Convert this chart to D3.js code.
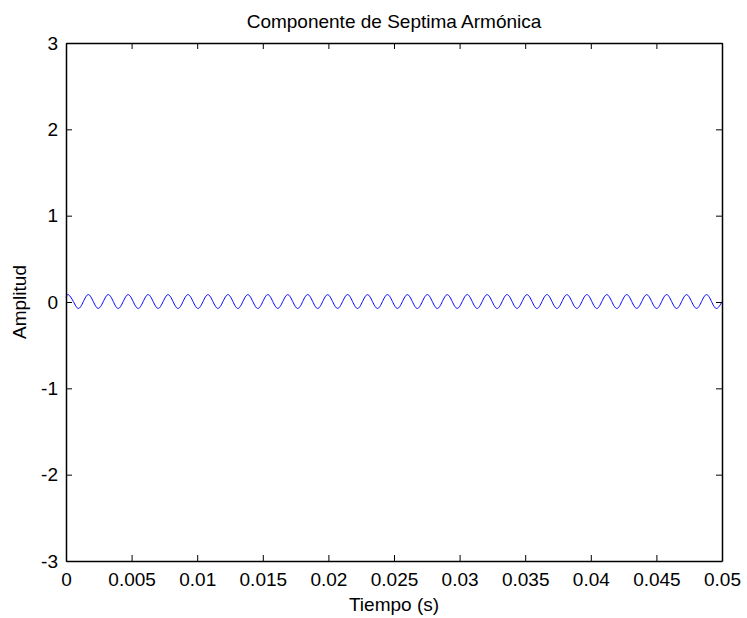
<!DOCTYPE html>
<html>
<head>
<meta charset="utf-8">
<script src="https://cdn.jsdelivr.net/npm/d3@7"></script>
<style>
  html, body { margin: 0; padding: 0; background: #fff; }
  svg { display: block; }
  text { font-family: "Liberation Sans", Arial, sans-serif; fill: #000; }
</style>
</head>
<body>
<svg id="chart" width="747" height="618"></svg>
<script>
// ---- data ----
const titleText = "Componente de Septima Armónica";
const xLabel = "Tiempo (s)";
const yLabel = "Amplitud";
const xTicks = [0, 0.005, 0.01, 0.015, 0.02, 0.025, 0.03, 0.035, 0.04, 0.045, 0.05];
const xTickLabels = ["0", "0.005", "0.01", "0.015", "0.02", "0.025", "0.03", "0.035", "0.04", "0.045", "0.05"];
const yTicks = [-3, -2, -1, 0, 1, 2, 3];
const yTickLabels = ["-3", "-2", "-1", "0", "1", "2", "3"];

// time samples (s): start, then peak / zero / trough / zero ... , end
const times = [
  0.00000,
  0.00018, 0.00056, 0.00094, 0.00132, 0.00170, 0.00208, 0.00246, 0.00284,
  0.00322, 0.00360, 0.00398, 0.00436, 0.00474, 0.00512, 0.00550, 0.00588,
  0.00626, 0.00664, 0.00702, 0.00740, 0.00778, 0.00816, 0.00854, 0.00892,
  0.00930, 0.00968, 0.01006, 0.01044, 0.01082, 0.01120, 0.01158, 0.01196,
  0.01234, 0.01272, 0.01310, 0.01348, 0.01386, 0.01424, 0.01462, 0.01500,
  0.01538, 0.01576, 0.01614, 0.01652, 0.01690, 0.01728, 0.01766, 0.01804,
  0.01842, 0.01880, 0.01918, 0.01956, 0.01994, 0.02032, 0.02070, 0.02108,
  0.02146, 0.02184, 0.02222, 0.02260, 0.02298, 0.02336, 0.02374, 0.02412,
  0.02450, 0.02488, 0.02526, 0.02564, 0.02602, 0.02640, 0.02678, 0.02716,
  0.02754, 0.02792, 0.02830, 0.02868, 0.02906, 0.02944, 0.02982, 0.03020,
  0.03058, 0.03096, 0.03134, 0.03172, 0.03210, 0.03248, 0.03286, 0.03324,
  0.03362, 0.03400, 0.03438, 0.03476, 0.03514, 0.03552, 0.03590, 0.03628,
  0.03666, 0.03704, 0.03742, 0.03780, 0.03818, 0.03856, 0.03894, 0.03932,
  0.03970, 0.04008, 0.04046, 0.04084, 0.04122, 0.04160, 0.04198, 0.04236,
  0.04274, 0.04312, 0.04350, 0.04388, 0.04426, 0.04464, 0.04502, 0.04540,
  0.04578, 0.04616, 0.04654, 0.04692, 0.04730, 0.04768, 0.04806, 0.04844,
  0.04882, 0.04920, 0.04958,
  0.05000
];
// amplitude samples matching the times above
const values = [
  0.050,
  0.085, 0.006, -0.075, 0.004, 0.086, 0.005, -0.074, 0.004,
  0.086, 0.006, -0.075, 0.005, 0.085, 0.005, -0.075, 0.004,
  0.086, 0.006, -0.074, 0.004, 0.085, 0.005, -0.075, 0.005,
  0.086, 0.006, -0.075, 0.004, 0.085, 0.005, -0.074, 0.004,
  0.086, 0.006, -0.075, 0.005, 0.085, 0.005, -0.075, 0.004,
  0.086, 0.006, -0.074, 0.004, 0.085, 0.005, -0.075, 0.005,
  0.086, 0.006, -0.075, 0.004, 0.085, 0.005, -0.074, 0.004,
  0.086, 0.006, -0.075, 0.005, 0.085, 0.005, -0.075, 0.004,
  0.086, 0.006, -0.074, 0.004, 0.085, 0.005, -0.075, 0.005,
  0.086, 0.006, -0.075, 0.004, 0.085, 0.005, -0.074, 0.004,
  0.086, 0.006, -0.075, 0.005, 0.085, 0.005, -0.075, 0.004,
  0.086, 0.006, -0.074, 0.004, 0.085, 0.005, -0.075, 0.005,
  0.086, 0.006, -0.075, 0.004, 0.085, 0.005, -0.074, 0.004,
  0.086, 0.006, -0.075, 0.005, 0.085, 0.005, -0.075, 0.004,
  0.086, 0.006, -0.074, 0.004, 0.085, 0.005, -0.075, 0.005,
  0.086, 0.006, -0.075, 0.004, 0.085, 0.005, -0.074, 0.004,
  0.086, 0.006, -0.075,
  0.004
];

// ---- layout ----
const svg = d3.select("#chart");
const mLeft = 66, mRight = 722, mTop = 43, mBottom = 561;
const fontSize = 19;
const tickLen = 6;

const x = d3.scaleLinear().domain([0, 0.05]).range([mLeft, mRight]);
const y = d3.scaleLinear().domain([-3, 3]).range([mBottom, mTop]);

// data line
const pts = times.map((t, i) => [t, values[i]]);
const lineGen = d3.line().x(d => x(d[0])).y(d => y(d[1])).curve(d3.curveNatural);
svg.append("path")
  .datum(pts)
  .attr("d", lineGen)
  .attr("fill", "none")
  .attr("stroke", "#0000ff")
  .attr("stroke-width", 1);

// axes with inward ticks on all sides
const fmtX = (d, i) => xTickLabels[i];
const fmtY = (d, i) => yTickLabels[i];

const axB = svg.append("g").attr("transform", `translate(0,${mBottom})`)
  .call(d3.axisBottom(x).tickValues(xTicks).tickFormat(fmtX).tickSizeInner(-tickLen).tickSizeOuter(0).tickPadding(12));
const axT = svg.append("g").attr("transform", `translate(0,${mTop})`)
  .call(d3.axisTop(x).tickValues(xTicks).tickFormat("").tickSizeInner(-tickLen).tickSizeOuter(0));
const axL = svg.append("g").attr("transform", `translate(${mLeft},0)`)
  .call(d3.axisLeft(y).tickValues(yTicks).tickFormat(fmtY).tickSizeInner(-tickLen).tickSizeOuter(0).tickPadding(8));
const axR = svg.append("g").attr("transform", `translate(${mRight},0)`)
  .call(d3.axisRight(y).tickValues(yTicks).tickFormat("").tickSizeInner(-tickLen).tickSizeOuter(0));

[axB, axT, axL, axR].forEach(g => {
  g.select(".domain").attr("stroke", "#000").attr("stroke-width", 1.5);
  g.selectAll(".tick line").attr("stroke", "#000").attr("stroke-width", 1);
  g.selectAll("text").attr("font-size", fontSize).attr("font-family", "Liberation Sans, Arial, sans-serif").attr("fill", "#000");
});

// title and axis labels
svg.append("text").attr("x", (mLeft + mRight) / 2).attr("y", 28)
  .attr("text-anchor", "middle").attr("font-size", fontSize).text(titleText);
svg.append("text").attr("x", (mLeft + mRight) / 2).attr("y", 611)
  .attr("text-anchor", "middle").attr("font-size", fontSize).text(xLabel);
svg.append("text").attr("transform", `translate(26,${(mTop + mBottom) / 2}) rotate(-90)`)
  .attr("text-anchor", "middle").attr("font-size", fontSize).text(yLabel);
</script>
</body>
</html>
